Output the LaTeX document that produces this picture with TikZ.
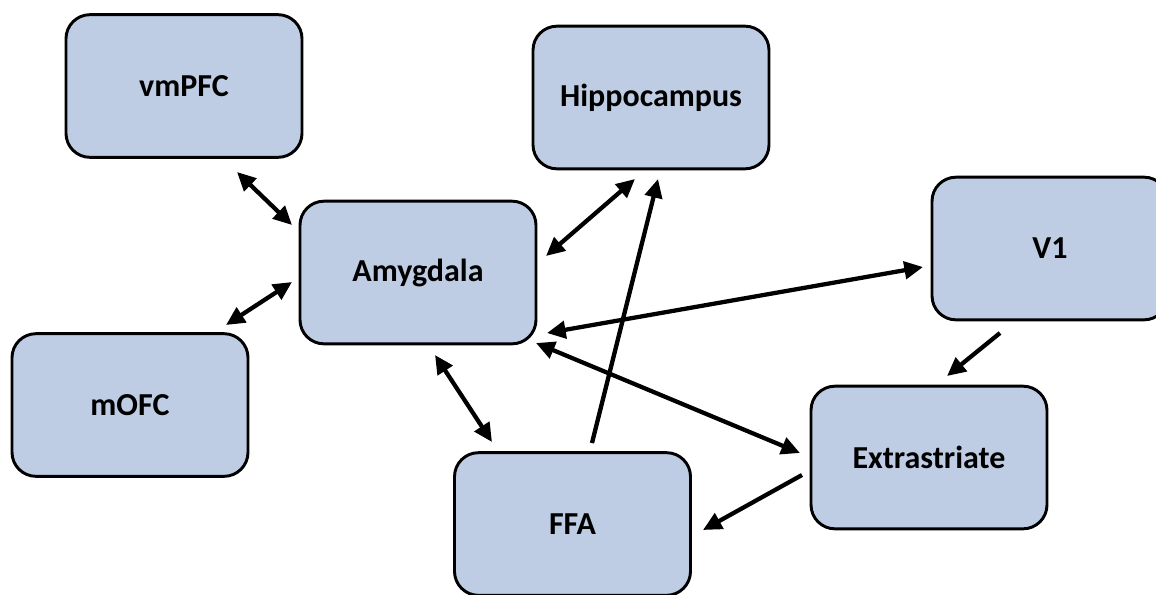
\documentclass[tikz,border=0pt]{standalone}
\usepackage{fontspec}
\setmainfont{Carlito}
\usetikzlibrary{arrows.meta}
\definecolor{boxfill}{RGB}{191,205,228}
\tikzset{
  region/.style={draw=black, line width=2.2pt, fill=boxfill, rounded corners=18pt,
    minimum width=177pt, minimum height=107pt, inner sep=0pt,
    font=\fontsize{24}{28}\selectfont\bfseries},
  conn/.style={line width=3.2pt, -{Triangle[length=14pt,width=13pt]}},
  biconn/.style={line width=3.2pt, {Triangle[length=14pt,width=13pt]}-{Triangle[length=14pt,width=13pt]}}
}
\begin{document}
\begin{tikzpicture}[x=0.75pt,y=-0.75pt]
\fill[white] (0,0) rectangle (1156,594);
\useasboundingbox (0,0) rectangle (1156,594);
\node[region] (vmpfc) at (184,86) {vmPFC};
\node[region] (hippo) at (651,97.5) {Hippocampus};
\node[region] (amy) at (418,272.5) {Amygdala};
\node[region] (v1) at (1050,248.5) {V1};
\node[region] (mofc) at (130,405) {mOFC};
\node[region] (extra) at (929,457.5) {Extrastriate};
\node[region] (ffa) at (572.5,524) {FFA};
% endpoints
\coordinate (p1a) at (237,172); \coordinate (p1b) at (292,225);
\coordinate (p2a) at (292,282); \coordinate (p2b) at (226,325);
\coordinate (p3a) at (635,179); \coordinate (p3b) at (546,256);
\coordinate (p4a) at (592,443); \coordinate (p4b) at (658,179);
\coordinate (p5a) at (435,355); \coordinate (p5b) at (492,442);
\coordinate (p6a) at (547,333); \coordinate (p6b) at (923,267);
\coordinate (p7a) at (536,343); \coordinate (p7b) at (800,453);
\coordinate (p8a) at (1000,333); \coordinate (p8b) at (947,376);
\coordinate (p9a) at (802,475); \coordinate (p9b) at (703,530);
\draw[biconn] (p1a) -- (p1b);
\draw[biconn] (p2a) -- (p2b);
\draw[biconn] (p3a) -- (p3b);
\draw[conn] (p4a) -- (p4b);
\draw[biconn] (p5a) -- (p5b);
\draw[biconn] (p6a) -- (p6b);
\draw[biconn] (p7a) -- (p7b);
\draw[conn] (p8a) -- (p8b);
\draw[conn] (p9a) -- (p9b);
\end{tikzpicture}
\end{document}
